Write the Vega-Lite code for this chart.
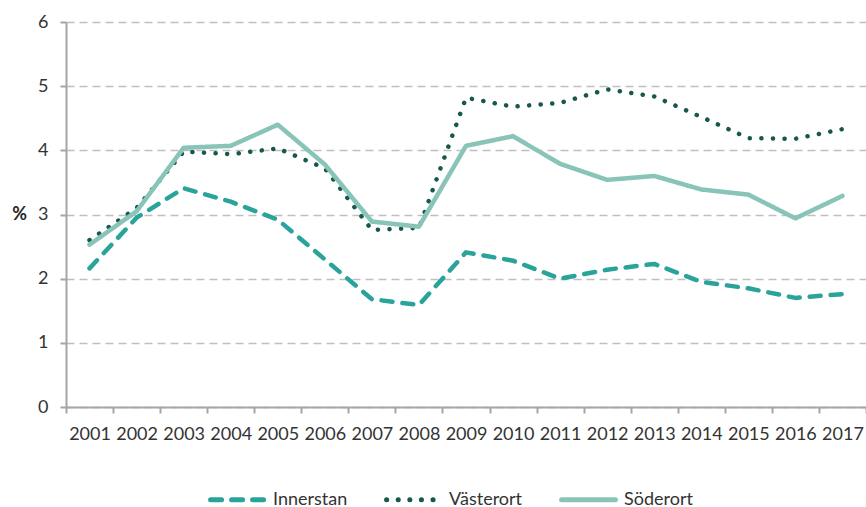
{
  "$schema": "https://vega.github.io/schema/vega-lite/v6.json",
  "width": 800,
  "height": 385,
  "autosize": {"type": "none"},
  "padding": {"left": 66, "top": 22, "right": 0, "bottom": 100},
  "background": "white",
  "config": {
    "view": {"stroke": null},
    "font": "Lato",
    "axis": {
      "labelFont": "Lato",
      "labelFontSize": 18,
      "labelColor": "#333333",
      "domainColor": "#a6a6a6",
      "domainWidth": 2,
      "tickColor": "#a6a6a6",
      "tickWidth": 2,
      "tickSize": 6
    }
  },
  "data": {
    "values": [
      {"year": "2001", "area": "Innerstan", "value": 2.16},
      {"year": "2002", "area": "Innerstan", "value": 2.95},
      {"year": "2003", "area": "Innerstan", "value": 3.41},
      {"year": "2004", "area": "Innerstan", "value": 3.2},
      {"year": "2005", "area": "Innerstan", "value": 2.92},
      {"year": "2006", "area": "Innerstan", "value": 2.3},
      {"year": "2007", "area": "Innerstan", "value": 1.68},
      {"year": "2008", "area": "Innerstan", "value": 1.59},
      {"year": "2009", "area": "Innerstan", "value": 2.41},
      {"year": "2010", "area": "Innerstan", "value": 2.28},
      {"year": "2011", "area": "Innerstan", "value": 2.0},
      {"year": "2012", "area": "Innerstan", "value": 2.14},
      {"year": "2013", "area": "Innerstan", "value": 2.23},
      {"year": "2014", "area": "Innerstan", "value": 1.95},
      {"year": "2015", "area": "Innerstan", "value": 1.85},
      {"year": "2016", "area": "Innerstan", "value": 1.7},
      {"year": "2017", "area": "Innerstan", "value": 1.76},
      {"year": "2001", "area": "Västerort", "value": 2.6},
      {"year": "2002", "area": "Västerort", "value": 3.1},
      {"year": "2003", "area": "Västerort", "value": 3.98},
      {"year": "2004", "area": "Västerort", "value": 3.94},
      {"year": "2005", "area": "Västerort", "value": 4.03},
      {"year": "2006", "area": "Västerort", "value": 3.72},
      {"year": "2007", "area": "Västerort", "value": 2.76},
      {"year": "2008", "area": "Västerort", "value": 2.79},
      {"year": "2009", "area": "Västerort", "value": 4.82},
      {"year": "2010", "area": "Västerort", "value": 4.68},
      {"year": "2011", "area": "Västerort", "value": 4.74},
      {"year": "2012", "area": "Västerort", "value": 4.95},
      {"year": "2013", "area": "Västerort", "value": 4.84},
      {"year": "2014", "area": "Västerort", "value": 4.52},
      {"year": "2015", "area": "Västerort", "value": 4.19},
      {"year": "2016", "area": "Västerort", "value": 4.18},
      {"year": "2017", "area": "Västerort", "value": 4.33},
      {"year": "2001", "area": "Söderort", "value": 2.53},
      {"year": "2002", "area": "Söderort", "value": 3.05},
      {"year": "2003", "area": "Söderort", "value": 4.04},
      {"year": "2004", "area": "Söderort", "value": 4.07},
      {"year": "2005", "area": "Söderort", "value": 4.4},
      {"year": "2006", "area": "Söderort", "value": 3.78},
      {"year": "2007", "area": "Söderort", "value": 2.89},
      {"year": "2008", "area": "Söderort", "value": 2.81},
      {"year": "2009", "area": "Söderort", "value": 4.07},
      {"year": "2010", "area": "Söderort", "value": 4.22},
      {"year": "2011", "area": "Söderort", "value": 3.79},
      {"year": "2012", "area": "Söderort", "value": 3.54},
      {"year": "2013", "area": "Söderort", "value": 3.6},
      {"year": "2014", "area": "Söderort", "value": 3.39},
      {"year": "2015", "area": "Söderort", "value": 3.31},
      {"year": "2016", "area": "Söderort", "value": 2.94},
      {"year": "2017", "area": "Söderort", "value": 3.29}
    ]
  },
  "mark": {"type": "line", "strokeWidth": 4.5, "strokeCap": "round", "strokeJoin": "round"},
  "encoding": {
    "x": {
      "field": "year",
      "type": "ordinal",
      "bandPosition": 0.5,
      "scale": {"type": "band", "paddingInner": 0, "paddingOuter": 0},
      "axis": {
        "title": null,
        "labelAngle": 0,
        "tickBand": "extent",
        "labelPadding": 12,
        "grid": false
      }
    },
    "y": {
      "field": "value",
      "type": "quantitative",
      "scale": {"domain": [0, 6], "nice": false},
      "axis": {
        "values": [0, 1, 2, 3, 4, 5, 6],
        "title": "%",
        "titleAngle": 0,
        "titleFont": "Lato",
        "titleFontSize": 18,
        "titleFontWeight": "bold",
        "titleColor": "#262626",
        "titleAlign": "center",
        "titleBaseline": "middle",
        "titleX": -47,
        "titleY": 192,
        "labelPadding": 12,
        "grid": true,
        "gridColor": "#bfbfbf",
        "gridWidth": 1.5,
        "gridDash": [8, 5]
      }
    },
    "color": {
      "field": "area",
      "type": "nominal",
      "sort": ["Innerstan", "Västerort", "Söderort"],
      "scale": {
        "domain": ["Innerstan", "Västerort", "Söderort"],
        "range": ["#2aa39a", "#17574d", "#88c4b8"]
      },
      "legend": {
        "title": null,
        "orient": "none",
        "direction": "horizontal",
        "legendX": 142,
        "legendY": 448,
        "symbolType": "stroke",
        "symbolSize": 2900,
        "symbolStrokeWidth": 5,
        "labelFont": "Lato",
        "labelFontSize": 18,
        "labelColor": "#333333",
        "labelOffset": 6,
        "columnPadding": 28,
        "encode": {
          "symbols": {"update": {"strokeCap": {"value": "round"}}}
        }
      }
    },
    "strokeDash": {
      "field": "area",
      "type": "nominal",
      "sort": ["Innerstan", "Västerort", "Söderort"],
      "scale": {
        "domain": ["Innerstan", "Västerort", "Söderort"],
        "range": [[11, 10], [0.1, 11.5], [1, 0]]
      }
    }
  }
}
